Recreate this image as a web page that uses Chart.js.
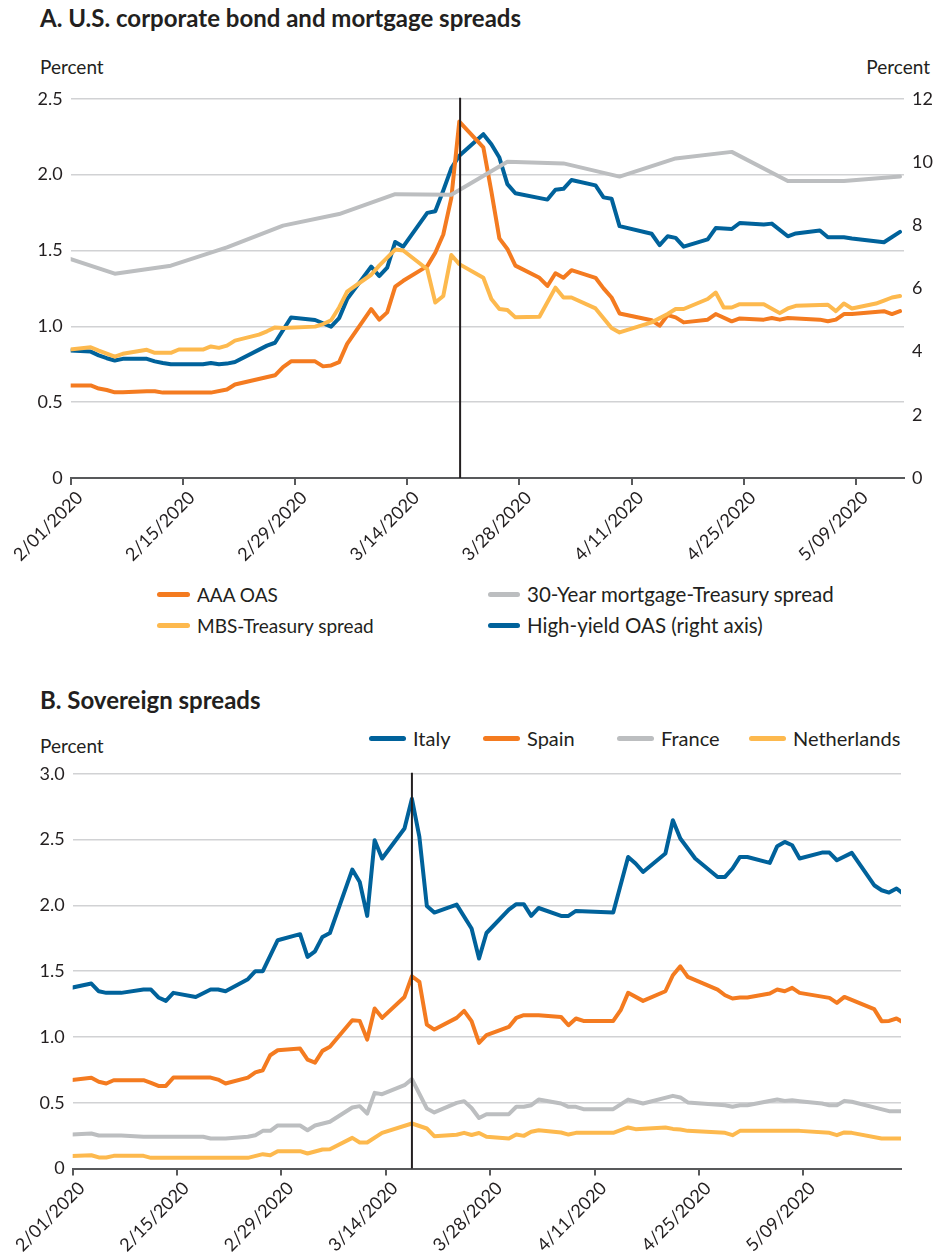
<!DOCTYPE html>
<html><head><meta charset="utf-8">
<script src="https://cdn.jsdelivr.net/npm/chart.js@4.4.1/dist/chart.umd.min.js"></script>
<style>
body{margin:0;background:#fff;width:935px;height:1258px;position:relative;overflow:hidden;font-family:Lato,'Open Sans',sans-serif;color:#231f20}
.t{position:absolute;white-space:nowrap;line-height:1}
.title{font-weight:700;font-size:24px}
.lbl{font-size:19px}
.leg{position:absolute;display:flex;align-items:center;font-size:19px;white-space:nowrap;line-height:1}
.leg.w{font-size:20.5px}
.leg.b{font-size:20px}
.sw{display:inline-block;height:5px;border-radius:3px;margin-right:7px}
canvas{position:absolute;left:0}
</style></head>
<body>
<div class="t title" style="left:40px;top:6px">A. U.S. corporate bond and mortgage spreads</div>
<div class="t lbl" style="left:40px;top:57px">Percent</div>
<div class="t lbl" style="right:5px;top:57px">Percent</div>
<canvas id="c1" width="935" height="500" style="top:80px"></canvas>
<div class="leg" style="left:157px;top:585px"><span class="sw" style="width:33px;background:#f47b20"></span>AAA OAS</div>
<div class="leg w" style="left:488px;top:584px"><span class="sw" style="width:32px;background:#bcbec0"></span>30-Year mortgage-Treasury spread</div>
<div class="leg" style="left:157px;top:616px"><span class="sw" style="width:33px;background:#fdb94e"></span>MBS-Treasury spread</div>
<div class="leg w" style="left:488px;top:615px"><span class="sw" style="width:32px;background:#00629b"></span>High-yield OAS (right axis)</div>

<div class="t title" style="left:40px;top:688px">B. Sovereign spreads</div>
<div class="t lbl" style="left:40px;top:736px">Percent</div>
<div class="leg b" style="left:369px;top:728px"><span class="sw" style="width:37px;background:#00629b"></span>Italy</div>
<div class="leg b" style="left:483px;top:728px"><span class="sw" style="width:37px;background:#f47b20"></span>Spain</div>
<div class="leg b" style="left:617px;top:728px"><span class="sw" style="width:37px;background:#bcbec0"></span>France</div>
<div class="leg b" style="left:749px;top:728px"><span class="sw" style="width:37px;background:#fdb94e"></span>Netherlands</div>
<canvas id="c2" width="935" height="500" style="top:755px"></canvas>

<script>
// x values: calendar days after 1 Feb 2020 (observations plotted at mid-day)
const NOON = 0.5;
const tickDays = [0, 14, 28, 42, 56, 70, 84, 98];
const tickLabels = ['2/01/2020', '2/15/2020', '2/29/2020', '3/14/2020', '3/28/2020', '4/11/2020', '4/25/2020', '5/09/2020'];

// Panel A
const topLeftTicks = [0, 0.5, 1, 1.5, 2, 2.5];
const topLeftLabels = ['0', '0.5', '1.0', '1.5', '2.0', '2.5'];
const topRightTicks = [0, 2, 4, 6, 8, 10, 12];
const topRightLabels = ['0', '2', '4', '6', '8', '10', '12'];
const topEventDay = 48.6;

const aaaDays = [-1,2,3,4,5,6,9,10,11,17,19,20,25,26,27,30,31,32,33,34,37,38,39,40,41,44,45,46,47,48,51,52,53,54,55,58,59,60,61,62,65,66,67,68,72,73,74,75,76,79,80,82,83,86,87,88,89,93,94,95,96,97,101,102,103];
const aaaValues = [0.61,0.61,0.59,0.58,0.565,0.565,0.572,0.572,0.563,0.563,0.583,0.616,0.677,0.731,0.769,0.769,0.736,0.742,0.764,0.884,1.114,1.044,1.092,1.262,1.30,1.397,1.485,1.605,1.845,2.35,2.18,1.89,1.58,1.51,1.40,1.32,1.266,1.35,1.32,1.37,1.32,1.25,1.19,1.085,1.04,1.004,1.074,1.059,1.026,1.044,1.081,1.033,1.052,1.044,1.055,1.044,1.055,1.044,1.033,1.044,1.081,1.081,1.10,1.081,1.10];

const mbsDays = [-1,2,3,5,6,9,10,12,13,16,17,18,19,20,23,24,25,26,30,31,32,33,34,37,38,40,41,44,45,46,47,48,51,52,53,54,55,58,60,61,62,65,67,68,72,74,75,76,79,80,81,82,83,86,88,89,90,94,95,96,97,100,101,102,103];
const mbsValues = [0.845,0.862,0.84,0.80,0.819,0.845,0.825,0.825,0.847,0.847,0.867,0.858,0.873,0.906,0.945,0.967,0.993,0.989,0.998,1.015,1.04,1.124,1.229,1.34,1.40,1.506,1.50,1.376,1.157,1.20,1.47,1.41,1.32,1.18,1.114,1.107,1.059,1.063,1.255,1.19,1.19,1.118,0.989,0.96,1.026,1.081,1.114,1.114,1.18,1.223,1.124,1.124,1.146,1.146,1.087,1.118,1.135,1.142,1.10,1.15,1.118,1.15,1.17,1.19,1.20];

const mortDays = [-2,5,12,19,26,33,40,47,54,61,68,75,82,89,96,103];
const mortValues = [1.47,1.347,1.40,1.52,1.664,1.74,1.871,1.867,2.085,2.074,1.987,2.107,2.15,1.958,1.958,1.987];

const hyDays = [-1,2,3,4,5,6,9,10,11,12,16,17,18,19,20,24,25,27,30,32,33,34,37,38,39,40,41,44,45,46,47,48,51,52,53,54,55,59,60,61,62,65,66,67,68,72,73,74,75,76,79,80,82,83,86,87,89,90,93,94,96,97,101,103];
const hyValues = [4.04,4.00,3.88,3.79,3.72,3.77,3.77,3.69,3.64,3.60,3.60,3.64,3.60,3.62,3.67,4.19,4.28,5.08,5.00,4.79,5.06,5.66,6.69,6.39,6.66,7.47,7.32,8.39,8.44,9.1,9.80,10.2,10.88,10.56,10.14,9.30,9.01,8.81,9.12,9.15,9.43,9.26,8.88,8.84,7.97,7.73,7.37,7.65,7.60,7.32,7.55,7.91,7.88,8.07,8.02,8.05,7.65,7.74,7.83,7.62,7.62,7.58,7.46,7.79];

// Panel B
const botTicks = [0, 0.5, 1, 1.5, 2, 2.5, 3];
const botLabels = ['0', '0.5', '1.0', '1.5', '2.0', '2.5', '3.0'];
const botEventDay = 45.5;

const itDays = [-1,2,3,4,6,9,10,11,12,13,16,18,19,20,23,24,25,27,30,31,32,33,34,37,38,39,40,41,44,45,46,47,48,51,53,54,55,58,59,60,61,62,65,66,67,72,74,75,76,79,80,81,83,86,87,88,89,90,93,94,95,96,97,100,101,102,104,107,108,109,110,111];
const itValues = [1.37,1.406,1.347,1.335,1.335,1.36,1.36,1.30,1.274,1.335,1.304,1.36,1.36,1.347,1.439,1.50,1.50,1.735,1.781,1.608,1.651,1.76,1.79,2.272,2.178,1.92,2.495,2.356,2.584,2.81,2.52,1.996,1.945,2.006,1.824,1.596,1.79,1.968,2.009,2.009,1.92,1.98,1.92,1.92,1.958,1.945,2.368,2.318,2.254,2.394,2.647,2.508,2.356,2.216,2.216,2.28,2.368,2.368,2.323,2.45,2.482,2.457,2.356,2.401,2.401,2.343,2.399,2.153,2.115,2.097,2.128,2.085];

const esDays = [-1,2,3,4,5,9,10,11,12,13,18,19,20,23,24,25,26,27,30,31,32,33,34,37,38,39,40,41,44,45,46,47,48,51,52,53,54,55,58,59,60,62,65,66,67,68,72,73,74,76,79,80,81,82,86,87,88,89,90,93,94,95,96,97,101,102,103,107,108,109,110,111];
const esValues = [0.67,0.689,0.659,0.646,0.671,0.671,0.651,0.628,0.628,0.691,0.691,0.676,0.646,0.691,0.73,0.747,0.861,0.899,0.912,0.828,0.805,0.894,0.925,1.127,1.122,0.98,1.216,1.145,1.304,1.461,1.418,1.094,1.056,1.145,1.198,1.12,0.955,1.013,1.076,1.145,1.165,1.165,1.152,1.089,1.14,1.122,1.122,1.203,1.335,1.274,1.347,1.469,1.537,1.456,1.36,1.317,1.292,1.30,1.30,1.33,1.36,1.347,1.373,1.335,1.297,1.259,1.304,1.211,1.12,1.122,1.14,1.107];

const frDays = [-1,2,3,6,9,17,18,20,23,24,25,26,27,30,31,32,34,37,38,39,40,41,44,45,47,48,51,52,53,54,55,58,59,60,61,62,65,66,67,68,72,74,76,80,81,82,87,88,89,90,94,95,96,97,100,101,102,103,104,109,111];
const frValues = [0.258,0.266,0.251,0.251,0.241,0.241,0.228,0.228,0.241,0.253,0.286,0.286,0.327,0.327,0.291,0.327,0.355,0.464,0.474,0.418,0.575,0.565,0.633,0.679,0.456,0.426,0.499,0.512,0.46,0.384,0.413,0.413,0.469,0.469,0.481,0.524,0.494,0.469,0.469,0.451,0.451,0.524,0.494,0.552,0.54,0.502,0.481,0.469,0.481,0.481,0.524,0.514,0.518,0.512,0.494,0.481,0.481,0.514,0.507,0.436,0.436];

const nlDays = [-1,2,3,4,5,9,10,23,25,26,27,30,31,33,34,37,38,39,41,45,47,48,51,52,53,54,55,58,59,60,61,62,65,66,67,72,74,75,79,80,81,82,87,88,89,97,101,102,103,104,108,111];
const nlValues = [0.094,0.101,0.084,0.084,0.096,0.096,0.081,0.081,0.109,0.101,0.132,0.132,0.114,0.144,0.147,0.233,0.198,0.198,0.271,0.342,0.304,0.246,0.257,0.271,0.255,0.27,0.241,0.228,0.258,0.248,0.279,0.291,0.274,0.258,0.271,0.271,0.312,0.299,0.312,0.301,0.296,0.286,0.271,0.253,0.286,0.286,0.271,0.253,0.274,0.271,0.228,0.228];

const C = { orange:'#f47b20', light:'#fdb94e', gray:'#bcbec0', blue:'#00629b', grid:'#d1d2d4', axis:'#58595b', text:'#231f20' };
const tickFont = { family: 'Lato', size: 18 };

function pts(days, vals) { return days.map((d, i) => ({ x: d + NOON, y: vals[i] })); }
function ds(label, days, vals, color, axis) {
  return { label, data: pts(days, vals), borderColor: color, backgroundColor: color, yAxisID: axis || 'y',
           borderWidth: 4, pointRadius: 0, tension: 0, borderCapStyle: 'round', borderJoinStyle: 'round', fill: false };
}
function setTicks(values) { return s => { s.ticks = values.map(v => ({ value: v })); }; }
function labelFrom(values, labels) { return v => { const i = values.indexOf(v); return i >= 0 ? labels[i] : ''; }; }
function eventLine(day) {
  return { id: 'eventLine', afterDatasetsDraw(chart) {
    const { ctx, chartArea, scales } = chart;
    const px = scales.x.getPixelForValue(day);
    ctx.save(); ctx.strokeStyle = C.text; ctx.lineWidth = 2;
    ctx.beginPath(); ctx.moveTo(px, chartArea.top - 1); ctx.lineTo(px, chartArea.bottom); ctx.stroke(); ctx.restore();
  } };
}
function xAxis(max, height) {
  return { type: 'linear', min: 0, max, afterBuildTicks: setTicks(tickDays), afterFit: s => { s.height = height; },
    ticks: { callback: labelFrom(tickDays, tickLabels), minRotation: 45, maxRotation: 45, autoSkip: false, font: tickFont, color: C.text, padding: 2, labelOffset: 9 },
    grid: { drawOnChartArea: false, drawTicks: true, tickLength: 7, color: C.axis, lineWidth: 2 },
    border: { color: C.axis, width: 2 } };
}
function yAxis(pos, max, vals, labels, width, showGrid) {
  return { position: pos, min: 0, max, afterBuildTicks: setTicks(vals), afterFit: s => { s.width = width; },
    ticks: { callback: labelFrom(vals, labels), padding: 8, font: tickFont, color: C.text, autoSkip: false },
    grid: { display: showGrid, color: C.grid, lineWidth: 1.5, drawTicks: false },
    border: { display: false } };
}
const common = { responsive: false, animation: false, events: [],
  plugins: { legend: { display: false }, tooltip: { enabled: false } } };

new Chart(document.getElementById('c1'), {
  type: 'line',
  data: { datasets: [
    ds('30-Year mortgage-Treasury spread', mortDays, mortValues, C.gray),
    ds('MBS-Treasury spread', mbsDays, mbsValues, C.light),
    ds('AAA OAS', aaaDays, aaaValues, C.orange),
    ds('High-yield OAS (right axis)', hyDays, hyValues, C.blue, 'y1')
  ] },
  options: Object.assign({}, common, {
    layout: { padding: { top: 16.7, left: 0, right: 0, bottom: 0 } },
    scales: {
      x: xAxis(104, 102),
      y: yAxis('left', 2.5, topLeftTicks, topLeftLabels, 70.7, true),
      y1: yAxis('right', 12, topRightTicks, topRightLabels, 31, false)
    }
  }),
  plugins: [eventLine(topEventDay)]
});

new Chart(document.getElementById('c2'), {
  type: 'line',
  data: { datasets: [
    ds('Netherlands', nlDays, nlValues, C.light),
    ds('France', frDays, frValues, C.gray),
    ds('Spain', esDays, esValues, C.orange),
    ds('Italy', itDays, itValues, C.blue)
  ] },
  options: Object.assign({}, common, {
    layout: { padding: { top: 18.3, left: 0, right: 34, bottom: 0 } },
    scales: {
      x: xAxis(111.1, 86.5),
      y: yAxis('left', 3, botTicks, botLabels, 72.7, true)
    }
  }),
  plugins: [eventLine(botEventDay)]
});
</script>
</body></html>
